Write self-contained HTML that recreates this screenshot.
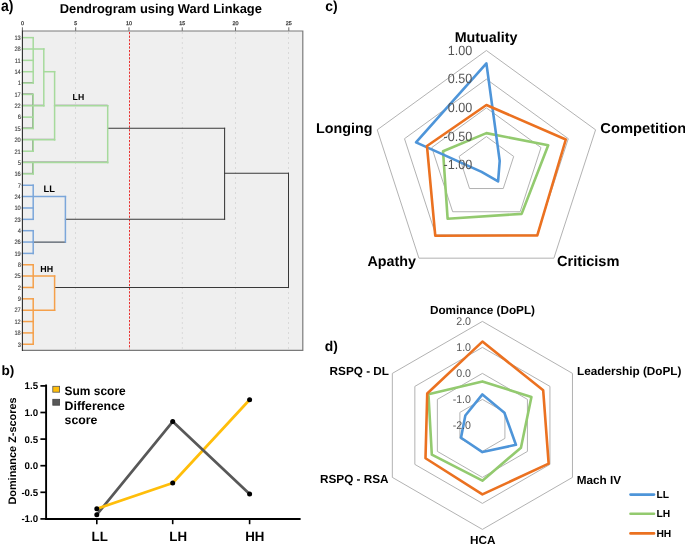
<!DOCTYPE html>
<html><head><meta charset="utf-8"><style>
html,body{margin:0;padding:0;background:#fff;}
svg{display:block;will-change:transform;}
text{font-family:"Liberation Sans",sans-serif;text-rendering:geometricPrecision;}
</style></head><body>
<svg width="685" height="546" viewBox="0 0 685 546">
<rect width="685" height="546" fill="#fff"/>
<text transform="translate(1.00 10.70) scale(0.900 1)" font-size="15.60" font-weight="bold" fill="#000">a)</text>
<text x="59.70" y="12.70" font-size="12.90" font-weight="bold" fill="#000">Dendrogram using Ward Linkage</text>
<rect x="22.40" y="31.00" width="280.40" height="319.30" fill="#efefef"/>
<line x1="75.50" y1="32.00" x2="75.50" y2="349.30" stroke="#d6d6d6" stroke-width="0.90" stroke-dasharray="2,3"/>
<line x1="182.30" y1="32.00" x2="182.30" y2="349.30" stroke="#d6d6d6" stroke-width="0.90" stroke-dasharray="2,3"/>
<line x1="235.50" y1="32.00" x2="235.50" y2="349.30" stroke="#d6d6d6" stroke-width="0.90" stroke-dasharray="2,3"/>
<line x1="288.50" y1="32.00" x2="288.50" y2="349.30" stroke="#d6d6d6" stroke-width="0.90" stroke-dasharray="2,3"/>
<line x1="129.50" y1="32.00" x2="129.50" y2="349.30" stroke="#e8302f" stroke-width="1.00" stroke-dasharray="2.2,1.4"/>
<line x1="22.40" y1="27.30" x2="22.40" y2="31.00" stroke="#555" stroke-width="0.90"/>
<text x="20.90" y="25.30" font-size="5.40" font-weight="normal" fill="#333" stroke="#333" stroke-width="0.25">0</text>
<line x1="75.68" y1="27.30" x2="75.68" y2="31.00" stroke="#555" stroke-width="0.90"/>
<text x="74.18" y="25.30" font-size="5.40" font-weight="normal" fill="#333" stroke="#333" stroke-width="0.25">5</text>
<line x1="128.96" y1="27.30" x2="128.96" y2="31.00" stroke="#555" stroke-width="0.90"/>
<text x="125.96" y="25.30" font-size="5.40" font-weight="normal" fill="#333" stroke="#333" stroke-width="0.25">10</text>
<line x1="182.24" y1="27.30" x2="182.24" y2="31.00" stroke="#555" stroke-width="0.90"/>
<text x="179.24" y="25.30" font-size="5.40" font-weight="normal" fill="#333" stroke="#333" stroke-width="0.25">15</text>
<line x1="235.52" y1="27.30" x2="235.52" y2="31.00" stroke="#555" stroke-width="0.90"/>
<text x="232.52" y="25.30" font-size="5.40" font-weight="normal" fill="#333" stroke="#333" stroke-width="0.25">20</text>
<line x1="288.80" y1="27.30" x2="288.80" y2="31.00" stroke="#555" stroke-width="0.90"/>
<text x="285.80" y="25.30" font-size="5.40" font-weight="normal" fill="#333" stroke="#333" stroke-width="0.25">25</text>
<path d="M22.40 31.00 H302.80 V350.30 H22.40" fill="none" stroke="#7a7a7a" stroke-width="1.2"/>
<text transform="translate(14.42 39.94) scale(0.880 1)" font-size="6.50" font-weight="normal" fill="#3a3a3a" stroke="#3a3a3a" stroke-width="0.12">13</text>
<text transform="translate(14.42 51.30) scale(0.880 1)" font-size="6.50" font-weight="normal" fill="#3a3a3a" stroke="#3a3a3a" stroke-width="0.12">28</text>
<text transform="translate(14.86 62.65) scale(0.880 1)" font-size="6.50" font-weight="normal" fill="#3a3a3a" stroke="#3a3a3a" stroke-width="0.12">11</text>
<text transform="translate(14.42 74.01) scale(0.880 1)" font-size="6.50" font-weight="normal" fill="#3a3a3a" stroke="#3a3a3a" stroke-width="0.12">14</text>
<text transform="translate(17.63 85.36) scale(0.880 1)" font-size="6.50" font-weight="normal" fill="#3a3a3a" stroke="#3a3a3a" stroke-width="0.12">1</text>
<text transform="translate(14.42 96.72) scale(0.880 1)" font-size="6.50" font-weight="normal" fill="#3a3a3a" stroke="#3a3a3a" stroke-width="0.12">17</text>
<text transform="translate(14.42 108.08) scale(0.880 1)" font-size="6.50" font-weight="normal" fill="#3a3a3a" stroke="#3a3a3a" stroke-width="0.12">22</text>
<text transform="translate(17.63 119.43) scale(0.880 1)" font-size="6.50" font-weight="normal" fill="#3a3a3a" stroke="#3a3a3a" stroke-width="0.12">6</text>
<text transform="translate(14.42 130.79) scale(0.880 1)" font-size="6.50" font-weight="normal" fill="#3a3a3a" stroke="#3a3a3a" stroke-width="0.12">15</text>
<text transform="translate(14.42 142.14) scale(0.880 1)" font-size="6.50" font-weight="normal" fill="#3a3a3a" stroke="#3a3a3a" stroke-width="0.12">20</text>
<text transform="translate(14.42 153.50) scale(0.880 1)" font-size="6.50" font-weight="normal" fill="#3a3a3a" stroke="#3a3a3a" stroke-width="0.12">21</text>
<text transform="translate(17.63 164.86) scale(0.880 1)" font-size="6.50" font-weight="normal" fill="#3a3a3a" stroke="#3a3a3a" stroke-width="0.12">5</text>
<text transform="translate(14.42 176.21) scale(0.880 1)" font-size="6.50" font-weight="normal" fill="#3a3a3a" stroke="#3a3a3a" stroke-width="0.12">16</text>
<text transform="translate(17.63 187.57) scale(0.880 1)" font-size="6.50" font-weight="normal" fill="#3a3a3a" stroke="#3a3a3a" stroke-width="0.12">7</text>
<text transform="translate(14.42 198.92) scale(0.880 1)" font-size="6.50" font-weight="normal" fill="#3a3a3a" stroke="#3a3a3a" stroke-width="0.12">24</text>
<text transform="translate(14.42 210.28) scale(0.880 1)" font-size="6.50" font-weight="normal" fill="#3a3a3a" stroke="#3a3a3a" stroke-width="0.12">10</text>
<text transform="translate(14.42 221.64) scale(0.880 1)" font-size="6.50" font-weight="normal" fill="#3a3a3a" stroke="#3a3a3a" stroke-width="0.12">23</text>
<text transform="translate(17.63 232.99) scale(0.880 1)" font-size="6.50" font-weight="normal" fill="#3a3a3a" stroke="#3a3a3a" stroke-width="0.12">4</text>
<text transform="translate(14.42 244.35) scale(0.880 1)" font-size="6.50" font-weight="normal" fill="#3a3a3a" stroke="#3a3a3a" stroke-width="0.12">26</text>
<text transform="translate(14.42 255.70) scale(0.880 1)" font-size="6.50" font-weight="normal" fill="#3a3a3a" stroke="#3a3a3a" stroke-width="0.12">19</text>
<text transform="translate(17.63 267.06) scale(0.880 1)" font-size="6.50" font-weight="normal" fill="#3a3a3a" stroke="#3a3a3a" stroke-width="0.12">8</text>
<text transform="translate(14.42 278.42) scale(0.880 1)" font-size="6.50" font-weight="normal" fill="#3a3a3a" stroke="#3a3a3a" stroke-width="0.12">25</text>
<text transform="translate(17.63 289.77) scale(0.880 1)" font-size="6.50" font-weight="normal" fill="#3a3a3a" stroke="#3a3a3a" stroke-width="0.12">2</text>
<text transform="translate(17.63 301.13) scale(0.880 1)" font-size="6.50" font-weight="normal" fill="#3a3a3a" stroke="#3a3a3a" stroke-width="0.12">9</text>
<text transform="translate(14.42 312.48) scale(0.880 1)" font-size="6.50" font-weight="normal" fill="#3a3a3a" stroke="#3a3a3a" stroke-width="0.12">27</text>
<text transform="translate(14.42 323.84) scale(0.880 1)" font-size="6.50" font-weight="normal" fill="#3a3a3a" stroke="#3a3a3a" stroke-width="0.12">12</text>
<text transform="translate(14.42 335.20) scale(0.880 1)" font-size="6.50" font-weight="normal" fill="#3a3a3a" stroke="#3a3a3a" stroke-width="0.12">18</text>
<text transform="translate(17.63 346.55) scale(0.880 1)" font-size="6.50" font-weight="normal" fill="#3a3a3a" stroke="#3a3a3a" stroke-width="0.12">3</text>
<line x1="107.70" y1="128.19" x2="224.60" y2="128.19" stroke="#383838" stroke-width="1.05" stroke-linecap="square"/>
<line x1="65.40" y1="219.34" x2="224.60" y2="219.34" stroke="#383838" stroke-width="1.05" stroke-linecap="square"/>
<line x1="224.60" y1="128.19" x2="224.60" y2="219.34" stroke="#383838" stroke-width="1.05" stroke-linecap="square"/>
<line x1="224.60" y1="173.31" x2="288.50" y2="173.31" stroke="#383838" stroke-width="1.05" stroke-linecap="square"/>
<line x1="54.60" y1="287.47" x2="288.50" y2="287.47" stroke="#383838" stroke-width="1.05" stroke-linecap="square"/>
<line x1="288.50" y1="173.31" x2="288.50" y2="287.47" stroke="#383838" stroke-width="1.05" stroke-linecap="square"/>
<line x1="33.20" y1="242.05" x2="65.40" y2="242.05" stroke="#505a66" stroke-width="1.30" stroke-linecap="square"/>
<line x1="22.40" y1="82.51" x2="33.20" y2="82.51" stroke="#7a7a7a" stroke-width="0.90"/>
<line x1="22.40" y1="93.87" x2="33.20" y2="93.87" stroke="#7a7a7a" stroke-width="0.90"/>
<line x1="22.40" y1="105.23" x2="43.80" y2="105.23" stroke="#7a7a7a" stroke-width="0.90"/>
<line x1="54.60" y1="105.23" x2="107.70" y2="105.23" stroke="#7a7a7a" stroke-width="0.90"/>
<line x1="22.40" y1="127.94" x2="33.20" y2="127.94" stroke="#7a7a7a" stroke-width="0.90"/>
<line x1="22.40" y1="139.29" x2="54.60" y2="139.29" stroke="#7a7a7a" stroke-width="0.90"/>
<line x1="22.40" y1="162.01" x2="107.70" y2="162.01" stroke="#7a7a7a" stroke-width="0.90"/>
<line x1="22.40" y1="173.36" x2="33.20" y2="173.36" stroke="#7a7a7a" stroke-width="0.90"/>
<line x1="32.65" y1="162.56" x2="32.65" y2="173.91" stroke="#7a7a7a" stroke-width="0.90"/>
<line x1="32.65" y1="139.84" x2="32.65" y2="151.20" stroke="#7a7a7a" stroke-width="0.90"/>
<line x1="32.65" y1="94.42" x2="32.65" y2="128.49" stroke="#7a7a7a" stroke-width="0.90"/>
<line x1="22.40" y1="37.64" x2="33.20" y2="37.64" stroke="#a6da9c" stroke-width="1.50" stroke-linecap="square"/>
<line x1="22.40" y1="49.00" x2="43.80" y2="49.00" stroke="#a6da9c" stroke-width="1.50" stroke-linecap="square"/>
<line x1="22.40" y1="60.35" x2="33.20" y2="60.35" stroke="#a6da9c" stroke-width="1.50" stroke-linecap="square"/>
<line x1="22.40" y1="71.71" x2="33.20" y2="71.71" stroke="#a6da9c" stroke-width="1.50" stroke-linecap="square"/>
<line x1="43.80" y1="71.71" x2="54.60" y2="71.71" stroke="#a6da9c" stroke-width="1.50" stroke-linecap="square"/>
<line x1="22.40" y1="83.06" x2="33.20" y2="83.06" stroke="#a6da9c" stroke-width="1.50" stroke-linecap="square"/>
<line x1="33.20" y1="37.64" x2="33.20" y2="83.06" stroke="#a6da9c" stroke-width="1.50" stroke-linecap="square"/>
<line x1="22.40" y1="94.42" x2="33.20" y2="94.42" stroke="#a6da9c" stroke-width="1.50" stroke-linecap="square"/>
<line x1="22.40" y1="105.78" x2="43.80" y2="105.78" stroke="#a6da9c" stroke-width="1.50" stroke-linecap="square"/>
<line x1="54.60" y1="105.78" x2="107.70" y2="105.78" stroke="#a6da9c" stroke-width="1.50" stroke-linecap="square"/>
<line x1="22.40" y1="117.13" x2="33.20" y2="117.13" stroke="#a6da9c" stroke-width="1.50" stroke-linecap="square"/>
<line x1="22.40" y1="128.49" x2="33.20" y2="128.49" stroke="#a6da9c" stroke-width="1.50" stroke-linecap="square"/>
<line x1="33.20" y1="94.42" x2="33.20" y2="128.49" stroke="#a6da9c" stroke-width="1.50" stroke-linecap="square"/>
<line x1="22.40" y1="139.84" x2="54.60" y2="139.84" stroke="#a6da9c" stroke-width="1.50" stroke-linecap="square"/>
<line x1="22.40" y1="151.20" x2="33.20" y2="151.20" stroke="#a6da9c" stroke-width="1.50" stroke-linecap="square"/>
<line x1="33.20" y1="139.84" x2="33.20" y2="151.20" stroke="#a6da9c" stroke-width="1.50" stroke-linecap="square"/>
<line x1="22.40" y1="162.56" x2="107.70" y2="162.56" stroke="#a6da9c" stroke-width="1.50" stroke-linecap="square"/>
<line x1="22.40" y1="173.91" x2="33.20" y2="173.91" stroke="#a6da9c" stroke-width="1.50" stroke-linecap="square"/>
<line x1="33.20" y1="162.56" x2="33.20" y2="173.91" stroke="#a6da9c" stroke-width="1.50" stroke-linecap="square"/>
<line x1="43.80" y1="49.00" x2="43.80" y2="105.78" stroke="#a6da9c" stroke-width="1.50" stroke-linecap="square"/>
<line x1="54.60" y1="71.71" x2="54.60" y2="139.84" stroke="#a6da9c" stroke-width="1.50" stroke-linecap="square"/>
<line x1="107.70" y1="105.78" x2="107.70" y2="162.56" stroke="#a6da9c" stroke-width="1.50" stroke-linecap="square"/>
<line x1="22.40" y1="185.27" x2="33.20" y2="185.27" stroke="#7ba6da" stroke-width="1.50" stroke-linecap="square"/>
<line x1="22.40" y1="207.98" x2="33.20" y2="207.98" stroke="#7ba6da" stroke-width="1.50" stroke-linecap="square"/>
<line x1="22.40" y1="219.34" x2="33.20" y2="219.34" stroke="#7ba6da" stroke-width="1.50" stroke-linecap="square"/>
<line x1="22.40" y1="196.62" x2="65.40" y2="196.62" stroke="#7ba6da" stroke-width="1.50" stroke-linecap="square"/>
<line x1="33.20" y1="185.27" x2="33.20" y2="219.34" stroke="#7ba6da" stroke-width="1.50" stroke-linecap="square"/>
<line x1="22.40" y1="230.69" x2="33.20" y2="230.69" stroke="#7ba6da" stroke-width="1.50" stroke-linecap="square"/>
<line x1="22.40" y1="242.05" x2="33.20" y2="242.05" stroke="#7ba6da" stroke-width="1.50" stroke-linecap="square"/>
<line x1="22.40" y1="253.40" x2="33.20" y2="253.40" stroke="#7ba6da" stroke-width="1.50" stroke-linecap="square"/>
<line x1="33.20" y1="230.69" x2="33.20" y2="253.40" stroke="#7ba6da" stroke-width="1.50" stroke-linecap="square"/>
<line x1="65.40" y1="196.62" x2="65.40" y2="242.05" stroke="#7ba6da" stroke-width="1.50" stroke-linecap="square"/>
<line x1="22.40" y1="264.76" x2="33.20" y2="264.76" stroke="#f5a04a" stroke-width="1.50" stroke-linecap="square"/>
<line x1="22.40" y1="287.47" x2="33.20" y2="287.47" stroke="#f5a04a" stroke-width="1.50" stroke-linecap="square"/>
<line x1="22.40" y1="298.83" x2="33.20" y2="298.83" stroke="#f5a04a" stroke-width="1.50" stroke-linecap="square"/>
<line x1="22.40" y1="321.54" x2="33.20" y2="321.54" stroke="#f5a04a" stroke-width="1.50" stroke-linecap="square"/>
<line x1="22.40" y1="332.90" x2="33.20" y2="332.90" stroke="#f5a04a" stroke-width="1.50" stroke-linecap="square"/>
<line x1="22.40" y1="344.25" x2="33.20" y2="344.25" stroke="#f5a04a" stroke-width="1.50" stroke-linecap="square"/>
<line x1="22.40" y1="276.12" x2="54.60" y2="276.12" stroke="#f5a04a" stroke-width="1.50" stroke-linecap="square"/>
<line x1="22.40" y1="310.18" x2="54.60" y2="310.18" stroke="#f5a04a" stroke-width="1.50" stroke-linecap="square"/>
<line x1="33.20" y1="264.76" x2="33.20" y2="287.47" stroke="#f5a04a" stroke-width="1.50" stroke-linecap="square"/>
<line x1="33.20" y1="298.83" x2="33.20" y2="344.25" stroke="#f5a04a" stroke-width="1.50" stroke-linecap="square"/>
<line x1="54.60" y1="276.12" x2="54.60" y2="310.18" stroke="#f5a04a" stroke-width="1.50" stroke-linecap="square"/>
<line x1="22.40" y1="30.40" x2="22.40" y2="350.90" stroke="#2a2a2a" stroke-width="1.10"/>
<text x="72.60" y="100.00" font-size="8.70" font-weight="bold" fill="#000">LH</text>
<text x="43.60" y="192.00" font-size="9.30" font-weight="bold" fill="#000">LL</text>
<text x="40.30" y="272.00" font-size="8.90" font-weight="bold" fill="#000">HH</text>
<text x="1.50" y="374.90" font-size="13.60" font-weight="bold" fill="#000">b)</text>
<line x1="46.10" y1="384.50" x2="46.10" y2="519.90" stroke="#000" stroke-width="1.90"/>
<line x1="45.20" y1="518.95" x2="300.60" y2="518.95" stroke="#000" stroke-width="1.90"/>
<line x1="40.40" y1="385.90" x2="46.10" y2="385.90" stroke="#000" stroke-width="1.70"/>
<text x="24.60" y="389.40" font-size="9.70" font-weight="bold" fill="#000">1.5</text>
<line x1="40.40" y1="412.50" x2="46.10" y2="412.50" stroke="#000" stroke-width="1.70"/>
<text x="24.60" y="416.00" font-size="9.70" font-weight="bold" fill="#000">1.0</text>
<line x1="40.40" y1="439.10" x2="46.10" y2="439.10" stroke="#000" stroke-width="1.70"/>
<text x="24.60" y="442.60" font-size="9.70" font-weight="bold" fill="#000">0.5</text>
<line x1="40.40" y1="465.70" x2="46.10" y2="465.70" stroke="#000" stroke-width="1.70"/>
<text x="24.60" y="469.20" font-size="9.70" font-weight="bold" fill="#000">0.0</text>
<line x1="40.40" y1="492.30" x2="46.10" y2="492.30" stroke="#000" stroke-width="1.70"/>
<text x="21.40" y="495.80" font-size="9.70" font-weight="bold" fill="#000">-0.5</text>
<line x1="40.40" y1="518.90" x2="46.10" y2="518.90" stroke="#000" stroke-width="1.70"/>
<text x="21.40" y="522.40" font-size="9.70" font-weight="bold" fill="#000">-1.0</text>
<line x1="96.80" y1="518.90" x2="96.80" y2="524.20" stroke="#000" stroke-width="1.60"/>
<text x="91.58" y="540.50" font-size="13.30" font-weight="bold" fill="#000">LL</text>
<line x1="172.70" y1="518.90" x2="172.70" y2="524.20" stroke="#000" stroke-width="1.60"/>
<text x="169.32" y="540.50" font-size="13.30" font-weight="bold" fill="#000">LH</text>
<line x1="249.60" y1="518.90" x2="249.60" y2="524.20" stroke="#000" stroke-width="1.60"/>
<text x="245.20" y="540.50" font-size="13.30" font-weight="bold" fill="#000">HH</text>
<text x="-0.00" y="0" font-size="10.90" font-weight="bold" fill="#000" transform="translate(16.2,504.6) rotate(-90)">Dominance Z-scores</text>
<path d="M96.80 514.64 L172.70 421.54" fill="none" stroke="#585858" stroke-width="2.70" stroke-linecap="round"/>
<path d="M96.80 508.79 L172.70 482.99 L249.60 399.73" fill="none" stroke="#ffbe0a" stroke-width="2.70" stroke-linejoin="round"/>
<path d="M172.70 421.54 L249.60 493.90" fill="none" stroke="#585858" stroke-width="2.70" stroke-linecap="round"/>
<circle cx="96.80" cy="508.79" r="2.5" fill="#000"/>
<circle cx="172.70" cy="482.99" r="2.5" fill="#000"/>
<circle cx="249.60" cy="399.73" r="2.5" fill="#000"/>
<circle cx="96.80" cy="514.64" r="2.5" fill="#000"/>
<circle cx="172.70" cy="421.54" r="2.5" fill="#000"/>
<circle cx="249.60" cy="493.90" r="2.5" fill="#000"/>
<rect x="52.8" y="386.3" width="6.8" height="5.9" fill="#ffbe0a" stroke="#555" stroke-width="0.8"/>
<rect x="52.8" y="399.3" width="6.8" height="5.9" fill="#585858" stroke="#444" stroke-width="0.8"/>
<text transform="translate(64.60 395.20) scale(0.972 1)" font-size="12.30" font-weight="bold" fill="#000">Sum score</text>
<text x="64.60" y="409.60" font-size="12.30" font-weight="bold" fill="#000">Difference</text>
<text x="64.60" y="423.60" font-size="12.30" font-weight="bold" fill="#000">score</text>
<text transform="translate(325.20 11.00) scale(0.970 1)" font-size="14.40" font-weight="bold" fill="#000">c)</text>
<polygon points="486.40,136.60 513.70,156.43 503.27,188.52 469.53,188.52 459.10,156.43" fill="none" stroke="#a9a9a9" stroke-width="0.90" stroke-linejoin="miter"/>
<polygon points="486.40,107.90 540.99,147.56 520.14,211.74 452.66,211.74 431.81,147.56" fill="none" stroke="#a9a9a9" stroke-width="0.90" stroke-linejoin="miter"/>
<polygon points="486.40,79.20 568.29,138.69 537.01,234.96 435.79,234.96 404.51,138.69" fill="none" stroke="#a9a9a9" stroke-width="0.90" stroke-linejoin="miter"/>
<polygon points="486.40,50.50 595.58,129.82 553.88,258.18 418.92,258.18 377.22,129.82" fill="none" stroke="#a9a9a9" stroke-width="0.90" stroke-linejoin="miter"/>
<polygon points="486.40,133.10 548.22,145.21 521.67,213.84 447.61,218.70 443.03,151.21" fill="none" stroke="#93ca6f" stroke-width="2.60" stroke-linejoin="round"/>
<polygon points="486.40,63.40 499.71,160.97 498.10,181.40 481.58,171.93 416.02,142.43" fill="none" stroke="#4e95d9" stroke-width="2.60" stroke-linejoin="round"/>
<polygon points="486.40,105.00 565.81,139.50 537.30,235.36 435.26,235.68 426.96,145.99" fill="none" stroke="#eb7120" stroke-width="2.60" stroke-linejoin="round"/>
<text transform="translate(447.77 54.60) scale(0.940 1)" font-size="13.40" font-weight="normal" fill="#555">1.00</text>
<text transform="translate(447.77 83.30) scale(0.940 1)" font-size="13.40" font-weight="normal" fill="#555">0.50</text>
<text transform="translate(447.77 112.00) scale(0.940 1)" font-size="13.40" font-weight="normal" fill="#555">0.00</text>
<text transform="translate(443.58 140.70) scale(0.940 1)" font-size="13.40" font-weight="normal" fill="#555">-0.50</text>
<text transform="translate(443.58 169.40) scale(0.940 1)" font-size="13.40" font-weight="normal" fill="#555">-1.00</text>
<text x="454.70" y="42.40" font-size="14.30" font-weight="bold" fill="#000">Mutuality</text>
<text x="316.10" y="132.90" font-size="14.30" font-weight="bold" fill="#000">Longing</text>
<text transform="translate(600.30 132.60) scale(1.030 1)" font-size="14.30" font-weight="bold" fill="#000">Competition</text>
<text x="367.40" y="265.70" font-size="14.30" font-weight="bold" fill="#000">Apathy</text>
<text x="557.00" y="266.00" font-size="14.60" font-weight="bold" fill="#000">Criticism</text>
<text transform="translate(324.80 350.90) scale(0.970 1)" font-size="14.30" font-weight="bold" fill="#000">d)</text>
<polygon points="482.40,399.40 504.92,412.40 504.92,438.40 482.40,451.40 459.88,438.40 459.88,412.40" fill="none" stroke="#a9a9a9" stroke-width="0.90" stroke-linejoin="miter"/>
<polygon points="482.40,373.40 527.43,399.40 527.43,451.40 482.40,477.40 437.37,451.40 437.37,399.40" fill="none" stroke="#a9a9a9" stroke-width="0.90" stroke-linejoin="miter"/>
<polygon points="482.40,347.40 549.95,386.40 549.95,464.40 482.40,503.40 414.85,464.40 414.85,386.40" fill="none" stroke="#a9a9a9" stroke-width="0.90" stroke-linejoin="miter"/>
<polygon points="482.40,321.40 572.47,373.40 572.47,477.40 482.40,529.40 392.33,477.40 392.33,373.40" fill="none" stroke="#a9a9a9" stroke-width="0.90" stroke-linejoin="miter"/>
<polygon points="482.40,381.40 531.42,397.10 520.94,447.65 482.40,480.70 431.82,454.60 428.45,394.25" fill="none" stroke="#93ca6f" stroke-width="2.60" stroke-linejoin="round"/>
<polygon points="482.40,394.40 504.40,412.70 515.92,444.75 482.40,452.10 461.01,437.75 465.34,415.55" fill="none" stroke="#4e95d9" stroke-width="2.60" stroke-linejoin="round"/>
<polygon points="482.40,341.60 543.19,390.30 548.65,463.65 482.40,494.40 425.50,458.25 427.23,393.55" fill="none" stroke="#eb7120" stroke-width="2.60" stroke-linejoin="round"/>
<text transform="translate(456.23 325.40) scale(0.950 1)" font-size="11.20" font-weight="normal" fill="#555">2.0</text>
<text transform="translate(456.23 351.40) scale(0.950 1)" font-size="11.20" font-weight="normal" fill="#555">1.0</text>
<text transform="translate(456.23 377.40) scale(0.950 1)" font-size="11.20" font-weight="normal" fill="#555">0.0</text>
<text transform="translate(452.67 403.40) scale(0.950 1)" font-size="11.20" font-weight="normal" fill="#555">-1.0</text>
<text transform="translate(452.67 429.40) scale(0.950 1)" font-size="11.20" font-weight="normal" fill="#555">-2.0</text>
<text x="429.90" y="314.40" font-size="11.75" font-weight="bold" fill="#000">Dominance (DoPL)</text>
<text x="577.00" y="374.70" font-size="11.75" font-weight="bold" fill="#000">Leadership (DoPL)</text>
<text x="576.70" y="483.70" font-size="11.75" font-weight="bold" fill="#000">Mach IV</text>
<text x="470.10" y="544.20" font-size="11.75" font-weight="bold" fill="#000">HCA</text>
<text x="320.00" y="483.30" font-size="11.75" font-weight="bold" fill="#000">RSPQ - RSA</text>
<text x="329.60" y="374.60" font-size="11.75" font-weight="bold" fill="#000">RSPQ - DL</text>
<line x1="630.50" y1="494.60" x2="654.00" y2="494.60" stroke="#4e95d9" stroke-width="2.60" stroke-linecap="round"/>
<text x="656.40" y="498.20" font-size="10.30" font-weight="bold" fill="#000">LL</text>
<line x1="630.50" y1="513.70" x2="654.00" y2="513.70" stroke="#93ca6f" stroke-width="2.60" stroke-linecap="round"/>
<text x="656.40" y="517.30" font-size="10.30" font-weight="bold" fill="#000">LH</text>
<line x1="630.50" y1="533.40" x2="654.00" y2="533.40" stroke="#eb7120" stroke-width="2.60" stroke-linecap="round"/>
<text x="656.40" y="537.00" font-size="10.30" font-weight="bold" fill="#000">HH</text>
</svg>
</body></html>
